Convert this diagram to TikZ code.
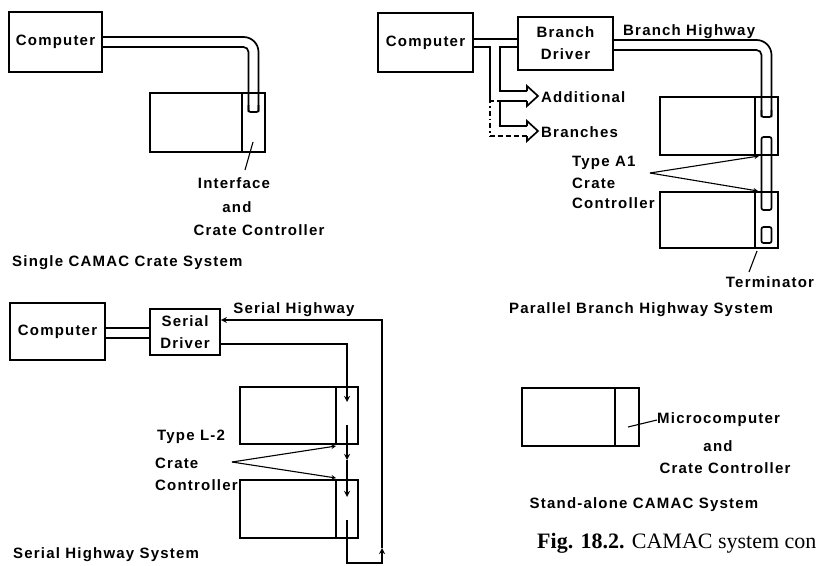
\documentclass[tikz,border=0pt]{standalone}
\usepackage{fontspec}
\setmainfont{Liberation Serif}
\newfontfamily\diagfont[LetterSpace=8]{Liberation Sans}
\usetikzlibrary{positioning,calc}

\begin{document}
\begin{tikzpicture}[
    x=1pt, y=-1pt,
    lbl/.style={
      font=\diagfont\bfseries\fontsize{15}{22}\selectfont,
      inner sep=0pt, align=center
    },
    box/.style={draw, line width=1.7pt, lbl},
    crate/.style={draw, line width=1.7pt, inner sep=0pt, outer sep=0pt,
      minimum width=95},
    ctl/.style={draw, line width=1.7pt, inner sep=0pt, outer sep=0pt,
      minimum width=23},
    pipe/.style={line width=1.7pt},
    hwy/.style={line width=1.7pt, ->, >=stealth},
    ptr/.style={line width=1.1pt, ->, >=stealth},
    lead/.style={line width=1.1pt},
  ]
  \useasboundingbox (0,0) rectangle (816,565);

  %% Single crate system
  \node[box, minimum width=93, minimum height=60] (compA) at (55.5,42) {Computer};
  \node[crate, minimum width=92, minimum height=59] (crateA) at (196,122.5) {};
  \node[ctl, minimum height=59, right=0pt of crateA] (ctlA) {};
  \draw[pipe, rounded corners=15] (compA.east |- 0,37) -- (258.5,37) -- (258.5,112);
  \draw[pipe, rounded corners=5] (compA.east |- 0,47) -- (248.5,47) -- (248.5,112);
  \draw[pipe, rounded corners=2] (248.5,105) -- (248.5,112) -- (258.5,112) -- (258.5,105);
  \node[lbl] (ifA) at (234,183) {Interface};
  \node[lbl] (andA) at (237,207) {and};
  \node[lbl] (ccA) at (259,230) {Crate Controller};
  \draw[lead] (253,142) -- (245,170);
  \node[lbl, anchor=west] (titleA) at (12,263) {Single CAMAC Crate System};

  %% Parallel branch highway system
  \node[box, minimum width=95, minimum height=59] (compB) at (425.5,42.5) {Computer};
  \node[box, minimum width=95, minimum height=53] (drvB) at (565.5,43.5) {Branch\\Driver};
  \draw[pipe] (compB.east |- 0,39) -- (drvB.west |- 0,39);
  \draw[pipe] (compB.east |- 0,47) -- (490,47) -- (490,98);
  \draw[pipe, dash pattern=on 5pt off 3pt on 1.5pt off 3pt] (490,98) -- (490,136);
  \draw[pipe, dash pattern=on 5pt off 3pt] (490,136) -- (527,136);
  \draw[pipe] (drvB.west |- 0,47) -- (500,47) -- (500,91) -- (527,91);
  \draw[pipe] (527,101) -- (500,101) -- (500,126) -- (527,126);
  \draw[pipe, dash pattern=on 4pt off 3pt] (490,101) -- (500,101);
  \draw[pipe] (527,91) -- (527,86) -- (538,96) -- (527,106) -- (527,101);
  \draw[pipe] (527,126) -- (527,121) -- (538,131) -- (527,141) -- (527,136);
  \node[lbl, anchor=west] (addB) at (541,97) {Additional};
  \node[lbl, anchor=west] (brB) at (541,132) {Branches};

  \node[lbl, anchor=west] (hwyB) at (623,32) {Branch Highway};
  \node[crate, minimum height=58] (crateB1) at (707.5,126) {};
  \node[ctl, minimum height=58, right=0pt of crateB1] (ctlB1) {};
  \node[crate, minimum height=56] (crateB2) at (707.5,220) {};
  \node[ctl, minimum height=56, right=0pt of crateB2] (ctlB2) {};
  \draw[pipe, rounded corners=15] (drvB.east |- 0,40) -- (771.5,40) -- (771.5,117);
  \draw[pipe, rounded corners=5] (drvB.east |- 0,50) -- (761.5,50) -- (761.5,117);
  \draw[pipe, rounded corners=2] (761.5,110) -- (761.5,117) -- (771.5,117) -- (771.5,110);
  \draw[pipe, rounded corners=2] (761.5,137) rectangle (771.5,210);
  \node[draw, line width=1.7pt, rounded corners=2, minimum width=10, minimum height=16,
    inner sep=0pt] (termB) at (766.5,235) {};

  \node[lbl, anchor=west] (typeB) at (572,163) {Type A1};
  \node[lbl, anchor=west] (crB) at (572,183) {Crate};
  \node[lbl, anchor=west] (conB) at (572,203) {Controller};
  \coordinate (apexB) at (650,173);
  \draw[ptr] (apexB) -- ($(ctlB1.south west)+(4,1)$);
  \draw[ptr] (apexB) -- ($(ctlB2.north west)+(3,-1)$);
  \node[lbl] (termL) at (770,282) {Terminator};
  \draw[lead] (757,251) -- (749,272);
  \node[lbl] (titleB) at (641,310) {Parallel Branch Highway System};

  %% Serial highway system
  \node[box, minimum width=95, minimum height=57] (compC) at (57.5,331.5) {Computer};
  \node[box, minimum width=70, minimum height=46] (drvC) at (185,332) {Serial\\Driver};
  \draw[pipe] (compC.east |- 0,328) -- (drvC.west |- 0,328);
  \draw[pipe] (compC.east |- 0,338) -- (drvC.west |- 0,338);
  \node[lbl] (hwyC) at (294,310) {Serial Highway};
  \node[crate, minimum width=96, minimum height=57] (crateC1) at (288,415.5) {};
  \node[ctl, minimum width=22, minimum height=57, right=0pt of crateC1] (ctlC1) {};
  \node[crate, minimum width=96, minimum height=58] (crateC2) at (288,509) {};
  \node[ctl, minimum width=22, minimum height=58, right=0pt of crateC2] (ctlC2) {};

  \draw[hwy] (drvC.east |- 0,344) -- (347,344) -- (347,402);
  \draw[hwy] (347,425) -- (347,460);
  \draw[hwy] (347,460) -- (347,497);
  \draw[hwy] (347,520) -- (347,563) -- (382,563) -- (382,548);
  \draw[hwy] (382,548) -- (382,320) -- (drvC.east |- 0,320);

  \node[lbl, anchor=west] (typeC) at (157,437) {Type L-2};
  \node[lbl, anchor=west] (crC) at (155,463) {Crate};
  \node[lbl, anchor=west] (conC) at (155,485) {Controller};
  \coordinate (apexC) at (232,462);
  \draw[ptr] (apexC) -- ($(ctlC1.south west)+(0,2)$);
  \draw[ptr] (apexC) -- ($(ctlC2.north west)+(0,-2)$);
  \node[lbl, anchor=west] (titleC) at (13,555) {Serial Highway System};

  %% Stand-alone system
  \node[crate, minimum width=93, minimum height=58] (crateD) at (568.5,417) {};
  \node[ctl, minimum width=24, minimum height=58, right=0pt of crateD] (ctlD) {};
  \node[lbl, anchor=west] (mcD) at (657,420) {Microcomputer};
  \node[lbl] (andD) at (718,446) {and};
  \node[lbl] (ccD) at (725,468) {Crate Controller};
  \draw[lead] (628,427) -- (mcD.west);
  \node[lbl] (titleD) at (644,505) {Stand-alone CAMAC System};

  %% Caption
  \node[anchor=west, inner sep=0pt, font=\fontsize{22}{25}\selectfont] (capt) at (537,543)
    {\textbf{Fig. 18.2.} CAMAC system con};

\end{tikzpicture}
\end{document}
